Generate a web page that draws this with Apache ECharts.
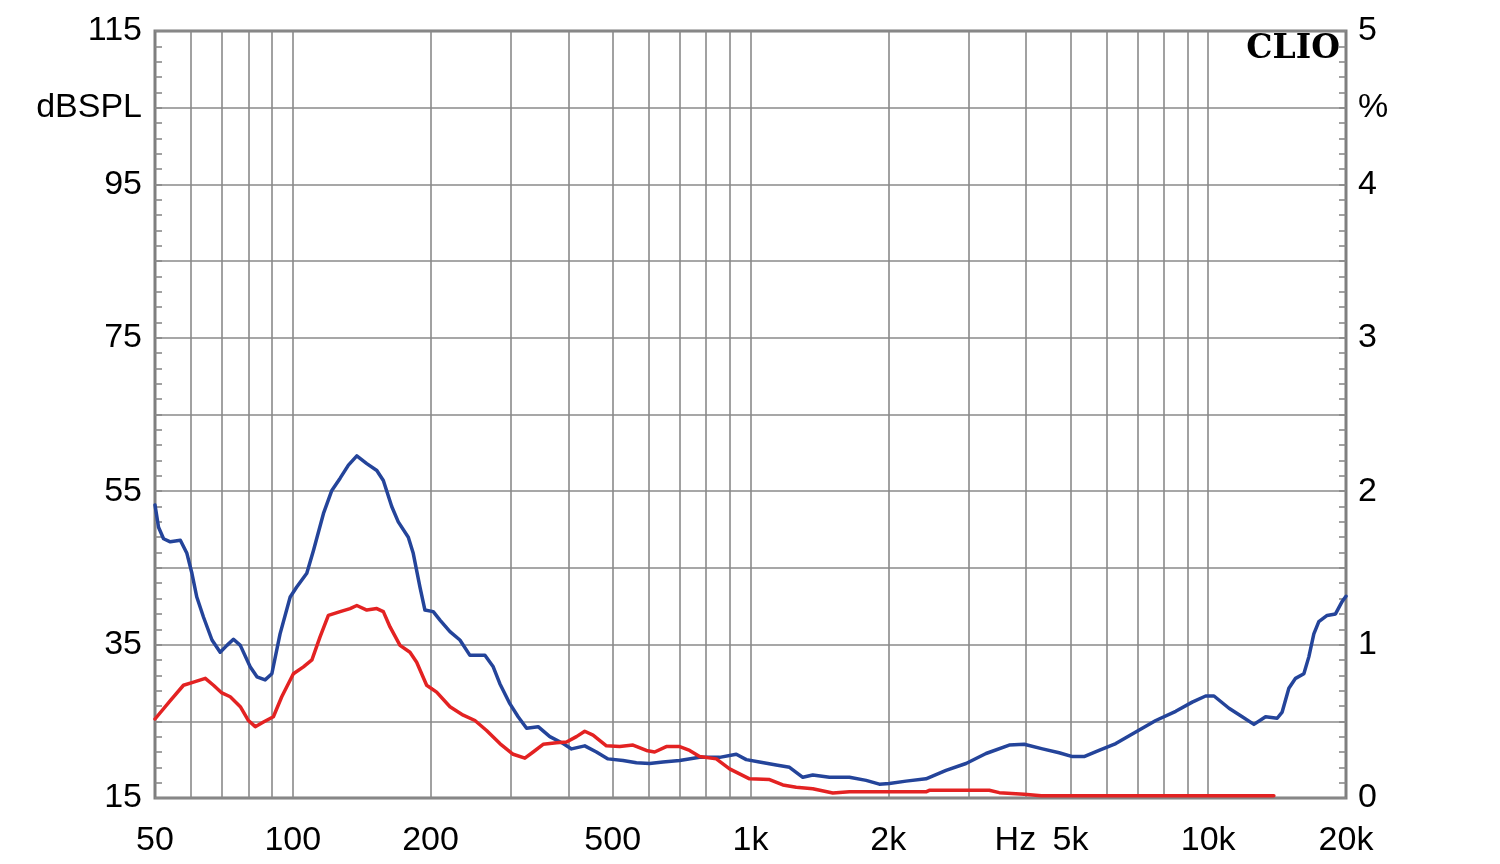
<!DOCTYPE html>
<html>
<head>
<meta charset="utf-8">
<script src="https://cdn.jsdelivr.net/npm/echarts@6/dist/echarts.min.js"></script>
<style>
html,body{margin:0;padding:0;background:#ffffff;}
#chart{width:1500px;height:864px;}
</style>
</head>
<body>
<div id="chart"></div>
<script>
// ---- data (frequency in Hz, level in dB SPL) ----
const blueFreq = [50, 50.9, 52.2, 54.0, 56.8, 58.7, 60.2, 61.7, 63.8, 66.6, 69.4, 71.8, 74.2, 76.8, 80.7, 83.5, 87.0, 90.0, 93.8, 98.7,
  102, 107.3, 111, 116.7, 121.7, 126.9, 132.3, 138, 145.1, 152.6, 157.7, 164.5, 170, 178.8, 183.3, 189.6, 194.4, 202.7, 209.7, 220.5,
  231.8, 243.8, 262.9, 274.1, 283.4, 298, 310.7, 324.2, 343.6, 364.4, 389.6, 406.4, 434.4, 460.7, 488.3, 526.6, 563.3, 602, 643.7, 700.2,
  774, 856, 931, 979, 1046, 1138, 1217, 1301, 1368, 1488, 1645, 1789, 1912, 2011, 2187, 2418, 2674, 2957, 3270, 3675,
  3962, 4344, 4724, 5050, 5355, 5774, 6282, 6946, 7682, 8492, 9228, 9872, 10295, 11102, 11865, 12585, 13346, 14147, 14506, 15003,
  15517, 16180, 16590, 17012, 17444, 18186, 18970, 19608, 20000];
const blueDb = [53.2, 50.3, 48.8, 48.4, 48.6, 46.9, 44.3, 41.2, 38.6, 35.6, 34.0, 34.9, 35.7, 34.9, 32.1, 30.8, 30.4, 31.2, 36.4, 41.2,
  42.5, 44.3, 47.3, 52.1, 55.1, 56.7, 58.4, 59.6, 58.6, 57.7, 56.4, 53.0, 51.0, 49.0, 46.9, 42.5, 39.5, 39.3, 38.2, 36.7,
  35.6, 33.6, 33.6, 32.1, 29.9, 27.3, 25.6, 24.1, 24.3, 23.0, 22.1, 21.4, 21.8, 21.0, 20.1, 19.9, 19.6, 19.5, 19.7, 19.9,
  20.3, 20.3, 20.7, 20.0, 19.7, 19.3, 19.0, 17.7, 18.0, 17.7, 17.7, 17.3, 16.8, 16.9, 17.2, 17.5, 18.6, 19.5, 20.8, 21.9,
  22.0, 21.4, 20.9, 20.4, 20.4, 21.2, 22.1, 23.6, 25.1, 26.3, 27.5, 28.3, 28.3, 26.7, 25.6, 24.6, 25.6, 25.4, 26.2, 29.3,
  30.6, 31.2, 33.4, 36.4, 38.0, 38.8, 39.0, 40.6, 41.3];

const redFreq = [50, 54.0, 57.7, 60.7, 64.4, 67.1, 70.0, 73.0, 76.8, 80.0, 82.8, 86.3, 90.7, 94.6, 100.3, 105.5, 110.1, 114.7, 119.6, 126.9,
  133.4, 138, 145.1, 152.6, 157.7, 163.1, 171.5, 180.3, 186.5, 196.1, 206.2, 220.5, 235.7, 250, 265.1, 283.4, 303, 321.4, 335.1, 352.3,
  376.9, 396.3, 416.7, 434.4, 452.9, 484.4, 517.9, 553.7, 592.2, 617.4, 654.7, 700.2, 736.2, 774, 841.9, 900.2, 995.2, 1100.6, 1176.8, 1258.6,
  1368, 1513, 1645, 2418, 2458, 3324, 3496, 3962, 4318, 10000, 13915];
const redDb = [25.3, 27.7, 29.7, 30.1, 30.6, 29.7, 28.7, 28.2, 26.9, 25.1, 24.3, 24.9, 25.6, 28.2, 31.2, 32.1, 33.0, 36.0, 38.8, 39.3,
  39.7, 40.1, 39.5, 39.7, 39.3, 37.3, 34.9, 34.0, 32.7, 29.7, 28.8, 26.9, 25.8, 25.1, 23.8, 22.1, 20.7, 20.2, 21.0, 22.0,
  22.2, 22.3, 23.0, 23.7, 23.2, 21.8, 21.7, 21.9, 21.2, 21.0, 21.7, 21.7, 21.2, 20.4, 20.1, 18.8, 17.5, 17.4, 16.7, 16.4,
  16.2, 15.65, 15.8, 15.8, 16.0, 16.0, 15.7, 15.5, 15.3, 15.3, 15.3];

// ---- axis ticks / labels ----
const gridFreqs = [60, 70, 80, 90, 100, 200, 300, 400, 500, 600, 700, 800, 900, 1000, 2000, 3000, 4000, 5000, 6000, 7000, 8000, 9000, 10000];
const xTickValues = [50, 100, 200, 500, 1000, 2000, 5000, 10000, 20000];
const xTickLabels = ['50', '100', '200', '500', '1k', '2k', '5k', '10k', '20k'];
const xUnitFreq = 3790;
const xUnitLabel = 'Hz';
const leftTickValues = [15, 35, 55, 75, 95, 105, 115];
const leftTickLabels = ['15', '35', '55', '75', '95', 'dBSPL', '115'];
const rightTickValues = [0, 1, 2, 3, 4, 4.5, 5];
const rightTickLabels = ['0', '1', '2', '3', '4', '%', '5'];
const brandText = 'CLIO';

const FONT = "'Liberation Sans', Arial, sans-serif";
const GRID = '#8a8a8a';
const FRAME = '#7f7f7f';
const FS = 34;

function pair(f, d) { return f.map((v, i) => [v, d[i]]); }
function lookup(vals, labels, v) {
  for (let i = 0; i < vals.length; i++) if (Math.abs(vals[i] - v) < 1e-6) return labels[i];
  return '';
}

const labelStyle = { show: true, color: '#000', fontSize: FS, fontFamily: FONT, position: 'start', distance: 26 };
const markData = [];
gridFreqs.forEach(f => {
  const idx = xTickValues.indexOf(f);
  markData.push({
    xAxis: f,
    label: idx >= 0 ? Object.assign({}, labelStyle, { formatter: xTickLabels[idx] }) : { show: false }
  });
});
[xTickValues[0], xTickValues[xTickValues.length - 1]].forEach(f => {
  markData.push({ xAxis: f, lineStyle: { color: 'rgba(0,0,0,0)' },
    label: Object.assign({}, labelStyle, { formatter: lookup(xTickValues, xTickLabels, f) }) });
});
markData.push({ xAxis: xUnitFreq, lineStyle: { color: 'rgba(0,0,0,0)' },
  label: Object.assign({}, labelStyle, { formatter: xUnitLabel }) });

const chart = echarts.init(document.getElementById('chart'), null, { renderer: 'canvas' });
const tickStyle = { color: GRID, width: 1.6 };
chart.setOption({
  animation: false,
  backgroundColor: '#ffffff',
  grid: { left: 155, top: 31, width: 1191, height: 767, show: true, borderColor: FRAME, borderWidth: 3,
          backgroundColor: 'transparent', containLabel: false, outerBoundsMode: 'none' },
  xAxis: {
    type: 'log', logBase: 10, min: 50, max: 20000,
    axisLine: { show: false }, axisTick: { show: false }, axisLabel: { show: false },
    splitLine: { show: false }, minorSplitLine: { show: false }, minorTick: { show: false }
  },
  yAxis: [
    {
      type: 'value', position: 'left', min: 15, max: 115, interval: 5,
      axisLine: { show: false }, axisTick: { show: false }, splitLine: { show: false },
      axisLabel: { color: '#000', fontSize: FS, fontFamily: FONT, margin: 13,
                   formatter: v => lookup(leftTickValues, leftTickLabels, v) }
    },
    {
      type: 'value', position: 'right', min: 0, max: 5, interval: 0.5,
      axisLine: { show: false },
      axisTick: { show: true, inside: true, length: 7, lineStyle: tickStyle },
      minorTick: { show: true, splitNumber: 5, length: 7, lineStyle: tickStyle },
      splitLine: { show: true, lineStyle: { color: GRID, width: 1.6 } },
      axisLabel: { color: '#000', fontSize: FS, fontFamily: FONT, margin: 12,
                   formatter: v => lookup(rightTickValues, rightTickLabels, v) }
    },
    {
      type: 'value', position: 'left', min: 0, max: 5, interval: 0.5,
      axisLine: { show: false },
      axisTick: { show: true, inside: true, length: 7, lineStyle: tickStyle },
      minorTick: { show: true, splitNumber: 5, length: 7, lineStyle: tickStyle },
      splitLine: { show: false }, axisLabel: { show: false }
    }
  ],
  graphic: [{
    type: 'text', right: 160, top: 33, z: 100,
    style: { text: brandText, font: "bold 33px 'DejaVu Serif', 'Liberation Serif', serif", fill: '#000' }
  }],
  series: [
    {
      name: 'grid', type: 'line', data: [], z: 1, silent: true, yAxisIndex: 0,
      markLine: {
        silent: true, symbol: ['none', 'none'], animation: false,
        lineStyle: { color: GRID, width: 1.6, type: 'solid' },
        emphasis: { disabled: true },
        label: { show: false },
        data: markData
      }
    },
    {
      name: 'response', type: 'line', yAxisIndex: 0, data: pair(blueFreq, blueDb),
      showSymbol: false, symbol: 'none', z: 5, silent: true,
      lineStyle: { color: '#24449a', width: 3.5, join: 'round', cap: 'round' }, itemStyle: { color: '#24449a' }
    },
    {
      name: 'distortion', type: 'line', yAxisIndex: 0, data: pair(redFreq, redDb),
      showSymbol: false, symbol: 'none', z: 6, silent: true,
      lineStyle: { color: '#e32222', width: 3.5, join: 'round', cap: 'round' }, itemStyle: { color: '#e32222' }
    }
  ]
});
</script>
</body>
</html>
